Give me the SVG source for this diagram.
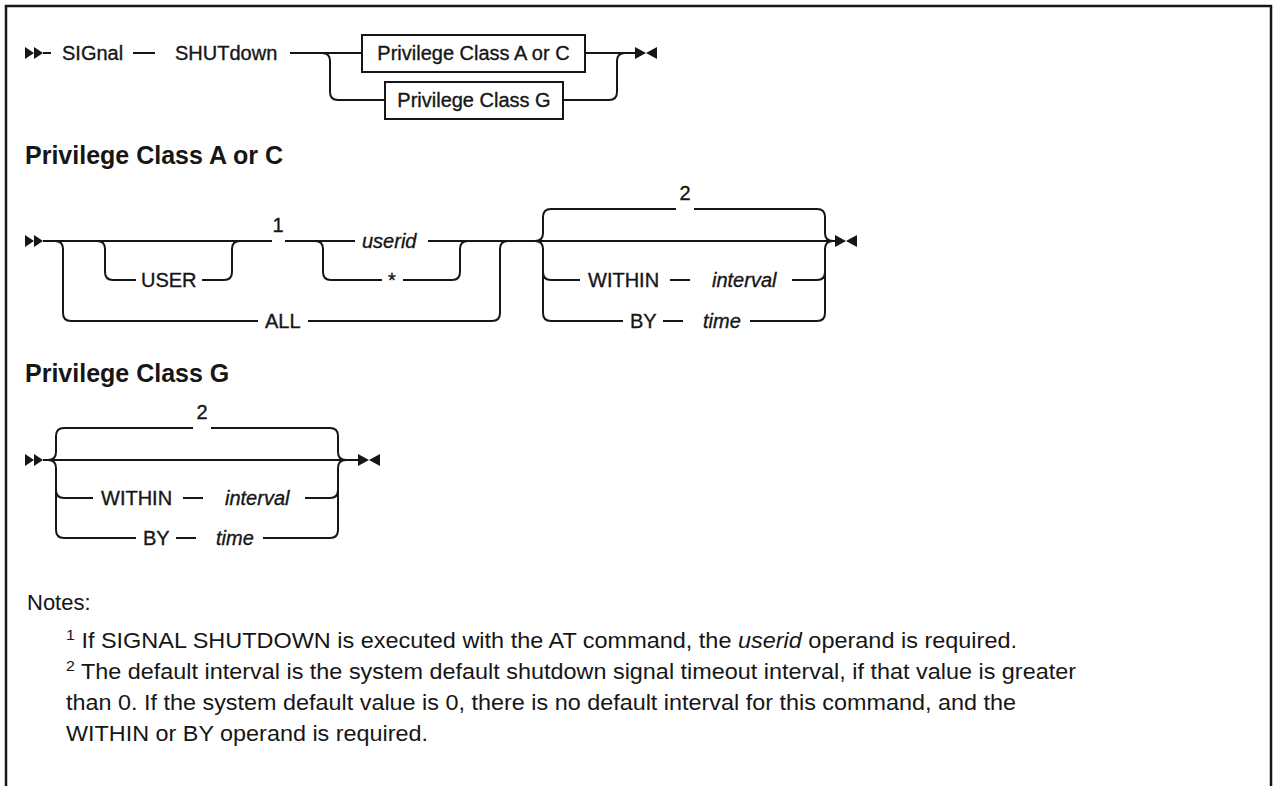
<svg xmlns="http://www.w3.org/2000/svg" width="1273" height="786" viewBox="0 0 1273 786">
<style>
.ln{fill:none;stroke:#161616;stroke-width:2}
.mk{fill:#161616}
.t{font-family:"Liberation Sans",Arial,sans-serif;font-size:20px;fill:#161616;stroke:#161616;stroke-width:0.35}
.i{font-style:italic}
.h{font-family:"Liberation Sans",Arial,sans-serif;font-size:25px;font-weight:bold;fill:#161616}
.n{font-family:"Liberation Sans",Arial,sans-serif;font-size:22px;fill:#161616}
.box{fill:#fff;stroke:#161616;stroke-width:2}
</style>
<defs>
<g id="start"><polygon points="0,-6 9,0 0,6"/><polygon points="9,-6 18,0 9,6"/></g>
<g id="end"><polygon points="0,-6 11,0 0,6"/><polygon points="22,-6 11,0 22,6"/></g>
</defs>
<rect x="0" y="0" width="1273" height="786" fill="#fff"/>
<path d="M6,786 V6 H1271 V786" fill="none" stroke="#161616" stroke-width="2.5"/>

<!-- Main diagram -->
<g id="connectors-main">
<use href="#start" x="25" y="53" class="mk"/>
<path class="ln" d="M43,53 H51"/>
<path class="ln" d="M133,53 H155"/>
<path class="ln" d="M290,53 H362"/>
<path class="ln" d="M322,53 Q330,53 330,61 V92 Q330,100 338,100 H385"/>
<path class="ln" d="M585,53 H635"/>
<path class="ln" d="M563,100 H609 Q617,100 617,92 V61 Q617,53 625,53"/>
<use href="#end" x="635" y="53" class="mk"/>
</g>
<g id="n-signal"><text class="t" x="62" y="60">SIGnal</text></g>
<g id="n-shutdown"><text class="t" x="175" y="60">SHUTdown</text></g>
<g id="n-boxac"><rect class="box" x="362" y="35" width="223" height="37"/><text class="t" x="473.5" y="60" text-anchor="middle">Privilege Class A or C</text></g>
<g id="n-boxg"><rect class="box" x="385" y="82" width="178" height="37"/><text class="t" x="474" y="107" text-anchor="middle">Privilege Class G</text></g>

<!-- Privilege Class A or C -->
<g id="h-ac"><text class="h" x="25" y="164">Privilege Class A or C</text></g>
<g id="connectors-ac">
<use href="#start" x="25" y="241" class="mk"/>
<path class="ln" d="M43,241 H272"/>
<path class="ln" d="M55,241 Q63,241 63,249 V313 Q63,321 71,321 H258"/>
<path class="ln" d="M308,321 H492 Q500,321 500,313 V249 Q500,241 508,241"/>
<path class="ln" d="M97,241 Q105,241 105,249 V272 Q105,280 113,280 H136"/>
<path class="ln" d="M202,280 H224 Q232,280 232,272 V249 Q232,241 240,241"/>
<path class="ln" d="M285,241 H355"/>
<path class="ln" d="M315,241 Q323,241 323,249 V272 Q323,280 331,280 H382"/>
<path class="ln" d="M403,280 H452 Q460,280 460,272 V249 Q460,241 468,241"/>
<path class="ln" d="M428,241 H835"/>
<path class="ln" d="M535,241 Q543,241 543,233 V217 Q543,209 551,209 H676"/>
<path class="ln" d="M694,209 H817 Q825,209 825,217 V233 Q825,241 833,241"/>
<path class="ln" d="M535,241 Q543,241 543,249 V313 Q543,321 551,321 H623"/>
<path class="ln" d="M543,272 Q543,280 551,280 H580"/>
<path class="ln" d="M670,280 H690"/>
<path class="ln" d="M792,280 H817 Q825,280 825,272"/>
<path class="ln" d="M825,249 V313 Q825,321 817,321 H750"/>
<path class="ln" d="M825,249 Q825,241 833,241"/>
<path class="ln" d="M663,321 H683"/>
<use href="#end" x="835" y="241" class="mk"/>
</g>
<g id="n-user"><text class="t" x="141" y="287">USER</text></g>
<g id="n-1"><text class="t" x="278" y="232" text-anchor="middle">1</text></g>
<g id="n-userid"><text class="t i" x="362" y="248">userid</text></g>
<g id="n-star"><text class="t" x="392" y="287" text-anchor="middle">*</text></g>
<g id="n-all"><text class="t" x="265" y="328">ALL</text></g>
<g id="n-2ac"><text class="t" x="685" y="200" text-anchor="middle">2</text></g>
<g id="n-within-ac"><text class="t" x="588" y="287">WITHIN</text></g>
<g id="n-interval-ac"><text class="t i" x="712" y="287">interval</text></g>
<g id="n-by-ac"><text class="t" x="630" y="328">BY</text></g>
<g id="n-time-ac"><text class="t i" x="703" y="328">time</text></g>

<!-- Privilege Class G -->
<g id="h-g"><text class="h" x="25" y="382">Privilege Class G</text></g>
<g id="connectors-g">
<use href="#start" x="25" y="460" class="mk"/>
<path class="ln" d="M43,460 H358"/>
<path class="ln" d="M48,460 Q56,460 56,452 V436 Q56,428 64,428 H193"/>
<path class="ln" d="M211,428 H330 Q338,428 338,436 V452 Q338,460 346,460"/>
<path class="ln" d="M48,460 Q56,460 56,468 V530 Q56,538 64,538 H136"/>
<path class="ln" d="M56,490 Q56,498 64,498 H93"/>
<path class="ln" d="M183,498 H203"/>
<path class="ln" d="M305,498 H330 Q338,498 338,490"/>
<path class="ln" d="M338,468 V530 Q338,538 330,538 H263"/>
<path class="ln" d="M338,468 Q338,460 346,460"/>
<path class="ln" d="M176,538 H196"/>
<use href="#end" x="358" y="460" class="mk"/>
</g>
<g id="n-2g"><text class="t" x="202" y="419" text-anchor="middle">2</text></g>
<g id="n-within-g"><text class="t" x="101" y="505">WITHIN</text></g>
<g id="n-interval-g"><text class="t i" x="225" y="505">interval</text></g>
<g id="n-by-g"><text class="t" x="143" y="545">BY</text></g>
<g id="n-time-g"><text class="t i" x="216" y="545">time</text></g>

<!-- Notes -->
<g id="notes">
<text class="n" x="27" y="610" font-size="20">Notes:</text>
<text class="n" x="66" y="648" textLength="951" lengthAdjust="spacingAndGlyphs"><tspan font-size="15" dy="-8">1</tspan><tspan dy="8"> If SIGNAL SHUTDOWN is executed with the AT command, the </tspan><tspan font-style="italic">userid</tspan><tspan> operand is required.</tspan></text>
<text class="n" x="66" y="679" textLength="1010" lengthAdjust="spacingAndGlyphs"><tspan font-size="15" dy="-8">2</tspan><tspan dy="8"> The default interval is the system default shutdown signal timeout interval, if that value is greater</tspan></text>
<text class="n" x="66" y="710" textLength="950" lengthAdjust="spacingAndGlyphs">than 0. If the system default value is 0, there is no default interval for this command, and the</text>
<text class="n" x="66" y="741" textLength="362" lengthAdjust="spacingAndGlyphs">WITHIN or BY operand is required.</text>
</g>
</svg>
